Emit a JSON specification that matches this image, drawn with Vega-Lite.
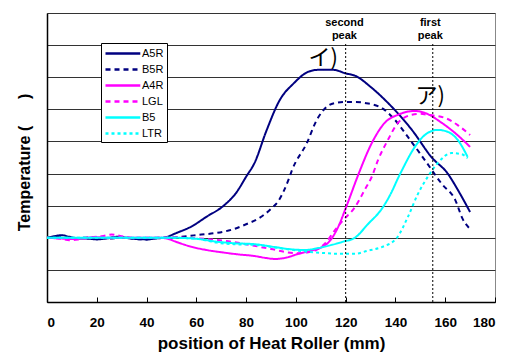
{
  "$schema": "https://vega.github.io/schema/vega-lite/v6.json",
  "width": 448,
  "height": 289,
  "autosize": {"type": "none"},
  "padding": {"left": 47, "top": 13, "right": 15, "bottom": 52},
  "config": {
    "view": {"stroke": "#888888", "strokeWidth": 1},
    "font": "Liberation Sans"
  },
  "datasets": {
    "curves": [
      {"s":"A5R","x":0,"t":2.0},{"s":"A5R","x":3,"t":2.05},{"s":"A5R","x":6,"t":2.08},{"s":"A5R","x":9,"t":2.03},{"s":"A5R","x":13,"t":1.98},{"s":"A5R","x":17,"t":1.97},{"s":"A5R","x":20,"t":1.95},{"s":"A5R","x":24,"t":1.98},{"s":"A5R","x":28,"t":2.03},{"s":"A5R","x":32,"t":2.0},{"s":"A5R","x":36,"t":1.96},{"s":"A5R","x":40,"t":1.95},{"s":"A5R","x":44,"t":1.98},{"s":"A5R","x":47,"t":2.0},{"s":"A5R","x":52,"t":2.15},{"s":"A5R","x":58,"t":2.35},{"s":"A5R","x":64,"t":2.65},{"s":"A5R","x":71,"t":3.0},{"s":"A5R","x":76,"t":3.4},{"s":"A5R","x":80,"t":3.9},{"s":"A5R","x":83.5,"t":4.35},{"s":"A5R","x":88,"t":5.3},{"s":"A5R","x":93.6,"t":6.3},{"s":"A5R","x":99,"t":6.8},{"s":"A5R","x":105,"t":7.17},{"s":"A5R","x":109,"t":7.23},{"s":"A5R","x":115,"t":7.23},{"s":"A5R","x":120,"t":7.12},{"s":"A5R","x":124,"t":7.04},{"s":"A5R","x":130,"t":6.7},{"s":"A5R","x":137,"t":6.2},{"s":"A5R","x":146.6,"t":5.36},{"s":"A5R","x":154.6,"t":4.5},{"s":"A5R","x":161,"t":4.0},{"s":"A5R","x":165,"t":3.5},{"s":"A5R","x":170,"t":2.8},
      {"s":"B5R","x":0,"t":2.0},{"s":"B5R","x":5,"t":2.02},{"s":"B5R","x":10,"t":1.98},{"s":"B5R","x":15,"t":2.0},{"s":"B5R","x":20,"t":2.02},{"s":"B5R","x":25,"t":1.98},{"s":"B5R","x":30,"t":2.0},{"s":"B5R","x":35,"t":1.97},{"s":"B5R","x":40,"t":1.95},{"s":"B5R","x":45,"t":2.0},{"s":"B5R","x":50,"t":2.0},{"s":"B5R","x":56,"t":2.05},{"s":"B5R","x":62,"t":2.1},{"s":"B5R","x":68,"t":2.15},{"s":"B5R","x":75,"t":2.27},{"s":"B5R","x":80,"t":2.42},{"s":"B5R","x":85,"t":2.6},{"s":"B5R","x":90,"t":2.9},{"s":"B5R","x":93,"t":3.15},{"s":"B5R","x":97,"t":3.8},{"s":"B5R","x":98.4,"t":4.1},{"s":"B5R","x":104.4,"t":4.95},{"s":"B5R","x":108.4,"t":5.67},{"s":"B5R","x":112.4,"t":6.08},{"s":"B5R","x":116,"t":6.2},{"s":"B5R","x":119.7,"t":6.23},{"s":"B5R","x":124,"t":6.23},{"s":"B5R","x":127.7,"t":6.2},{"s":"B5R","x":134.5,"t":6.04},{"s":"B5R","x":139.8,"t":5.67},{"s":"B5R","x":145,"t":5.14},{"s":"B5R","x":151.8,"t":4.42},{"s":"B5R","x":158.6,"t":3.68},{"s":"B5R","x":164,"t":3.18},{"s":"B5R","x":167,"t":2.59},{"s":"B5R","x":170,"t":2.27},
      {"s":"A4R","x":0,"t":2.0},{"s":"A4R","x":5,"t":1.98},{"s":"A4R","x":10,"t":1.96},{"s":"A4R","x":15,"t":2.0},{"s":"A4R","x":20,"t":2.02},{"s":"A4R","x":25,"t":2.0},{"s":"A4R","x":30,"t":2.0},{"s":"A4R","x":35,"t":2.0},{"s":"A4R","x":40,"t":2.0},{"s":"A4R","x":45,"t":2.0},{"s":"A4R","x":48,"t":1.98},{"s":"A4R","x":52,"t":1.87},{"s":"A4R","x":58,"t":1.72},{"s":"A4R","x":64,"t":1.62},{"s":"A4R","x":70,"t":1.55},{"s":"A4R","x":76,"t":1.49},{"s":"A4R","x":83.5,"t":1.43},{"s":"A4R","x":88,"t":1.37},{"s":"A4R","x":91.6,"t":1.34},{"s":"A4R","x":96,"t":1.38},{"s":"A4R","x":101,"t":1.5},{"s":"A4R","x":106,"t":1.6},{"s":"A4R","x":110.4,"t":1.71},{"s":"A4R","x":113,"t":1.85},{"s":"A4R","x":115,"t":2.05},{"s":"A4R","x":117,"t":2.34},{"s":"A4R","x":120.5,"t":3.02},{"s":"A4R","x":125,"t":3.95},{"s":"A4R","x":130.5,"t":4.95},{"s":"A4R","x":135.7,"t":5.58},{"s":"A4R","x":141,"t":5.83},{"s":"A4R","x":147.8,"t":5.95},{"s":"A4R","x":151.8,"t":5.89},{"s":"A4R","x":158.6,"t":5.58},{"s":"A4R","x":164,"t":5.26},{"s":"A4R","x":170,"t":4.83},
      {"s":"LGL","x":0,"t":2.0},{"s":"LGL","x":5,"t":1.98},{"s":"LGL","x":9,"t":1.92},{"s":"LGL","x":13,"t":1.95},{"s":"LGL","x":18,"t":2.02},{"s":"LGL","x":22,"t":2.05},{"s":"LGL","x":26,"t":2.1},{"s":"LGL","x":30,"t":2.05},{"s":"LGL","x":35,"t":2.0},{"s":"LGL","x":40,"t":2.0},{"s":"LGL","x":45,"t":2.0},{"s":"LGL","x":50,"t":2.02},{"s":"LGL","x":55,"t":2.0},{"s":"LGL","x":60,"t":1.98},{"s":"LGL","x":66,"t":1.95},{"s":"LGL","x":72,"t":1.9},{"s":"LGL","x":80,"t":1.8},{"s":"LGL","x":90,"t":1.65},{"s":"LGL","x":100,"t":1.52},{"s":"LGL","x":105,"t":1.55},{"s":"LGL","x":109,"t":1.65},{"s":"LGL","x":112,"t":1.85},{"s":"LGL","x":115.7,"t":2.24},{"s":"LGL","x":119,"t":2.55},{"s":"LGL","x":123.7,"t":2.95},{"s":"LGL","x":127.7,"t":3.5},{"s":"LGL","x":130.5,"t":3.9},{"s":"LGL","x":133,"t":4.42},{"s":"LGL","x":137,"t":5.05},{"s":"LGL","x":141,"t":5.58},{"s":"LGL","x":146.6,"t":5.83},{"s":"LGL","x":150,"t":5.86},{"s":"LGL","x":153,"t":5.83},{"s":"LGL","x":160,"t":5.73},{"s":"LGL","x":165,"t":5.51},{"s":"LGL","x":170,"t":5.2},
      {"s":"B5","x":0,"t":2.0},{"s":"B5","x":10,"t":2.0},{"s":"B5","x":20,"t":2.0},{"s":"B5","x":30,"t":2.0},{"s":"B5","x":40,"t":2.0},{"s":"B5","x":50,"t":2.0},{"s":"B5","x":60,"t":1.97},{"s":"B5","x":68,"t":1.88},{"s":"B5","x":75,"t":1.83},{"s":"B5","x":83.5,"t":1.8},{"s":"B5","x":91.6,"t":1.71},{"s":"B5","x":97,"t":1.65},{"s":"B5","x":103.6,"t":1.62},{"s":"B5","x":109,"t":1.68},{"s":"B5","x":114.5,"t":1.78},{"s":"B5","x":119,"t":1.88},{"s":"B5","x":123.7,"t":2.0},{"s":"B5","x":129,"t":2.43},{"s":"B5","x":134.5,"t":2.9},{"s":"B5","x":138.5,"t":3.43},{"s":"B5","x":141,"t":3.85},{"s":"B5","x":142.6,"t":4.1},{"s":"B5","x":147.8,"t":4.83},{"s":"B5","x":151.8,"t":5.2},{"s":"B5","x":157,"t":5.36},{"s":"B5","x":161,"t":5.3},{"s":"B5","x":165,"t":5.05},{"s":"B5","x":169,"t":4.52},
      {"s":"LTR","x":0,"t":2.0},{"s":"LTR","x":10,"t":2.0},{"s":"LTR","x":20,"t":2.0},{"s":"LTR","x":30,"t":2.0},{"s":"LTR","x":40,"t":2.0},{"s":"LTR","x":50,"t":2.0},{"s":"LTR","x":60,"t":1.97},{"s":"LTR","x":68,"t":1.85},{"s":"LTR","x":75,"t":1.8},{"s":"LTR","x":83,"t":1.78},{"s":"LTR","x":95,"t":1.66},{"s":"LTR","x":103,"t":1.58},{"s":"LTR","x":110.4,"t":1.53},{"s":"LTR","x":117,"t":1.5},{"s":"LTR","x":123.7,"t":1.5},{"s":"LTR","x":129,"t":1.6},{"s":"LTR","x":134.5,"t":1.71},{"s":"LTR","x":140.6,"t":2.0},{"s":"LTR","x":145,"t":2.65},{"s":"LTR","x":149,"t":3.36},{"s":"LTR","x":153,"t":3.9},{"s":"LTR","x":157,"t":4.33},{"s":"LTR","x":162.6,"t":4.64},{"s":"LTR","x":166.7,"t":4.6},{"s":"LTR","x":169,"t":4.48}
    ],
    "rules": [{"x": 120, "y0": 0, "y1": 8.05}, {"x": 155, "y0": 0, "y1": 8.05}],
    "peaks": [
      {"x": 119.5, "y": 8.7, "label": "second"},
      {"x": 119.5, "y": 8.27, "label": "peak"},
      {"x": 154, "y": 8.7, "label": "first"},
      {"x": 154, "y": 8.27, "label": "peak"}
    ],
    "marks": [
      {"x": 111, "y": 7.6, "label": "イ)"},
      {"x": 154, "y": 6.42, "label": "ア)"}
    ]
  },
  "layer": [
    {
      "data": {"name": "curves"},
      "mark": {"type": "line", "strokeWidth": 2, "interpolate": "monotone"},
      "encoding": {
        "x": {
          "field": "x", "type": "quantitative",
          "scale": {"domain": [0, 180], "nice": false},
          "axis": {
            "values": [0,20,40,60,80,100,120,140,160,180],
            "tickCount": 10,
            "grid": false,
            "title": "position of Heat Roller (mm)",
            "titleFont": "Liberation Sans", "titleFontSize": 17, "titleFontWeight": "bold", "titleColor": "black", "titlePadding": 7,
            "labelFont": "Liberation Sans", "labelFontSize": 13.5, "labelFontWeight": "bold", "labelColor": "black",
            "labelPadding": 18,
            "tickSize": -5, "tickColor": "black",
            "domainColor": "black", "domainWidth": 1.5
          }
        },
        "y": {
          "field": "t", "type": "quantitative",
          "scale": {"domain": [0, 9], "nice": false},
          "axis": {
            "values": [0,1,2,3,4,5,6,7,8,9],
            "tickCount": 10,
            "labels": false, "ticks": false,
            "grid": true, "gridColor": "#333333", "gridWidth": 1, "gridOpacity": 1,
            "title": "Temperature (\u00a0\u00a0\u00a0\u00a0\u00a0\u00a0)",
            "titleFont": "Liberation Sans", "titleFontSize": 16, "titleFontWeight": "bold", "titleColor": "black", "titlePadding": 15,
            "titleY": 149,
            "domainColor": "black", "domainWidth": 1.5
          }
        },
        "color": {
          "field": "s", "type": "nominal",
          "scale": {"domain": ["A5R","B5R","A4R","LGL","B5","LTR"], "range": ["#000080","#000080","#FF00FF","#FF00FF","#00FFFF","#00FFFF"]},
          "legend": {
            "title": null, "orient": "none", "legendX": 54, "legendY": 30,
            "symbolType": "M-1,0H4.8", "symbolSize": 144, "symbolStrokeWidth": 2.5,
            "labelFont": "Liberation Sans", "labelFontSize": 11, "labelColor": "black", "labelOffset": 23,
            "strokeColor": "black", "fillColor": "white", "padding": 3, "rowPadding": 3
          }
        },
        "strokeDash": {
          "field": "s", "type": "nominal",
          "scale": {"domain": ["A5R","B5R","A4R","LGL","B5","LTR"], "range": [[1,0],[5,4],[1,0],[5,4],[1,0],[3,3]]},
          "legend": {
            "title": null, "orient": "none", "legendX": 54, "legendY": 30,
            "symbolType": "M-1,0H4.8", "symbolSize": 144, "symbolStrokeWidth": 2.5,
            "labelFont": "Liberation Sans", "labelFontSize": 11, "labelColor": "black", "labelOffset": 23,
            "strokeColor": "black", "fillColor": "white", "padding": 3, "rowPadding": 3
          }
        },
        "order": {"field": "x", "type": "quantitative"}
      }
    },
    {
      "data": {"name": "rules"},
      "mark": {"type": "rule", "color": "black", "strokeWidth": 1, "strokeDash": [2, 2]},
      "encoding": {
        "x": {"field": "x", "type": "quantitative"},
        "y": {"field": "y0", "type": "quantitative"},
        "y2": {"field": "y1"}
      }
    },
    {
      "data": {"name": "peaks"},
      "mark": {"type": "text", "font": "Liberation Sans", "fontSize": 11, "fontWeight": "bold", "color": "black", "baseline": "middle", "align": "center"},
      "encoding": {
        "x": {"field": "x", "type": "quantitative"},
        "y": {"field": "y", "type": "quantitative"},
        "text": {"field": "label"}
      }
    },
    {
      "data": {"name": "marks"},
      "mark": {"type": "text", "font": "Noto Sans CJK JP", "fontSize": 22, "color": "black", "baseline": "middle", "align": "center"},
      "encoding": {
        "x": {"field": "x", "type": "quantitative"},
        "y": {"field": "y", "type": "quantitative"},
        "text": {"field": "label"}
      }
    }
  ]
}
